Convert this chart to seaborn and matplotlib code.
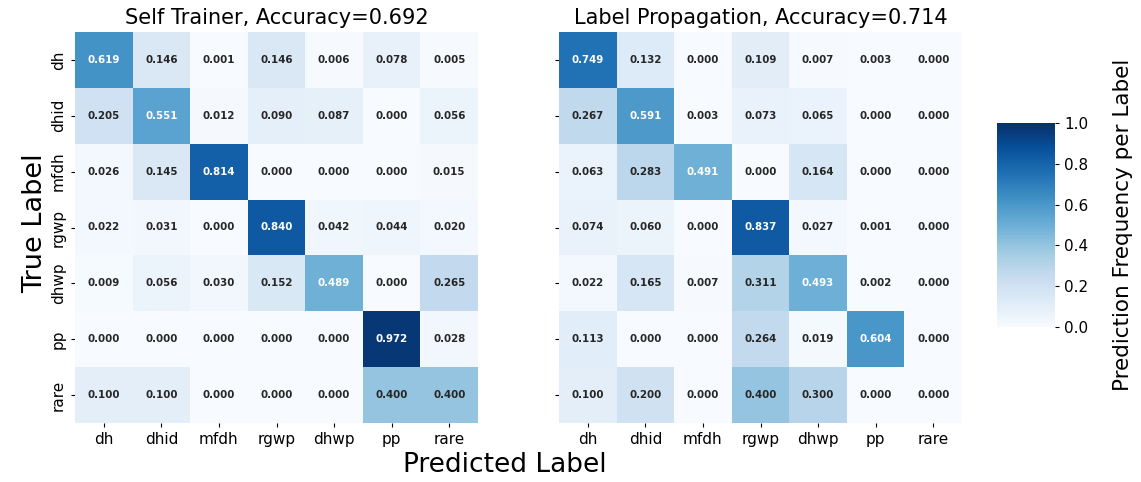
import numpy as np
import pandas as pd
import matplotlib
matplotlib.use("Agg")
import matplotlib.pyplot as plt
import seaborn as sns

labels = ["dh", "dhid", "mfdh", "rgwp", "dhwp", "pp", "rare"]

self_trainer = [
    [0.619, 0.146, 0.001, 0.146, 0.006, 0.078, 0.005],
    [0.205, 0.551, 0.012, 0.090, 0.087, 0.000, 0.056],
    [0.026, 0.145, 0.814, 0.000, 0.000, 0.000, 0.015],
    [0.022, 0.031, 0.000, 0.840, 0.042, 0.044, 0.020],
    [0.009, 0.056, 0.030, 0.152, 0.489, 0.000, 0.265],
    [0.000, 0.000, 0.000, 0.000, 0.000, 0.972, 0.028],
    [0.100, 0.100, 0.000, 0.000, 0.000, 0.400, 0.400],
]
label_prop = [
    [0.749, 0.132, 0.000, 0.109, 0.007, 0.003, 0.000],
    [0.267, 0.591, 0.003, 0.073, 0.065, 0.000, 0.000],
    [0.063, 0.283, 0.491, 0.000, 0.164, 0.000, 0.000],
    [0.074, 0.060, 0.000, 0.837, 0.027, 0.001, 0.000],
    [0.022, 0.165, 0.007, 0.311, 0.493, 0.002, 0.000],
    [0.113, 0.000, 0.000, 0.264, 0.019, 0.604, 0.000],
    [0.100, 0.200, 0.000, 0.400, 0.300, 0.000, 0.000],
]
titles = ["Self Trainer, Accuracy=0.692", "Label Propagation, Accuracy=0.714"]

sns.set_style("white")
plt.rcParams["font.family"] = ["DejaVu Sans"]
plt.rcParams["text.color"] = "black"
plt.rcParams["xtick.color"] = "black"
plt.rcParams["ytick.color"] = "black"
plt.rcParams["axes.labelcolor"] = "black"

fig = plt.figure(figsize=(11.41, 4.82), dpi=100)
ax1 = fig.add_axes([75/1141, 1-423/482, 403/1141, 391/482])
ax2 = fig.add_axes([559/1141, 1-423/482, 403/1141, 391/482])
cax = fig.add_axes([997/1141, 1-327/482, 58/1141, 204/482])

for i, (ax, data, title) in enumerate(zip([ax1, ax2], [self_trainer, label_prop], titles)):
    df = pd.DataFrame(data, index=labels, columns=labels)
    sns.heatmap(df, ax=ax, cmap="Blues", vmin=0, vmax=1, annot=True, fmt=".3f",
                annot_kws={"fontsize": 7.4, "fontweight": "bold"},
                cbar=(i == 0), cbar_ax=cax if i == 0 else None)
    ax.set_title(title, fontsize=15, color="black")
    ax.tick_params(axis="both", which="both", length=3, labelsize=11,
                   left=True, bottom=True, colors="black")
    ax.set_xticklabels(labels, rotation=0)
    if i == 0:
        ax.set_yticklabels(labels, rotation=90, va="center")
    else:
        ax.set_yticklabels([])

cax.tick_params(labelsize=11, length=3, colors="black")
cax.set_yticks([0, 0.2, 0.4, 0.6, 0.8, 1.0])
fig.text(1123/1141, 1-225/482, "Prediction Frequency per Label", rotation=90,
         ha="center", va="center", fontsize=15.5)
fig.text(35/1141, 1-223/482, "True Label", rotation=90, ha="center", va="center", fontsize=19.5)
fig.text(505/1141, 1-465/482, "Predicted Label", ha="center", va="center", fontsize=19)

fig.savefig("out.png", dpi=100)
